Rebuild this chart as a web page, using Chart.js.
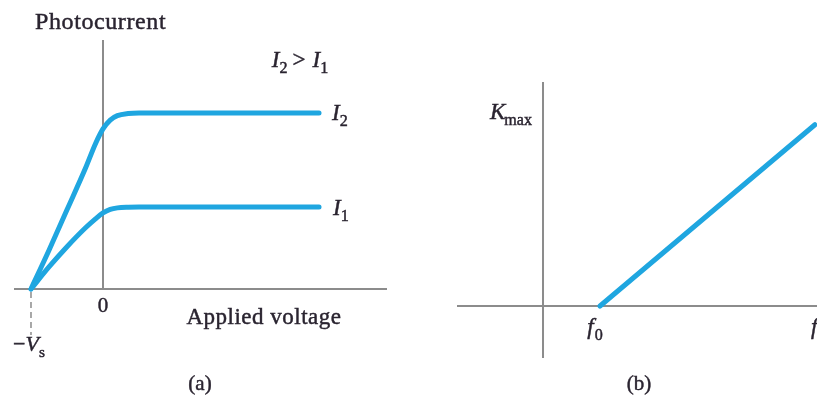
<!DOCTYPE html>
<html lang="en">
<head>
<meta charset="UTF-8">
<title>Photocurrent and Kmax</title>
<script src="https://cdn.jsdelivr.net/npm/chart.js"></script>
<style>
  body { margin: 0; background: #fff; }
  #wrap { position: relative; width: 817px; height: 397px; overflow: hidden; }
  #chartA { position: absolute; left: 0; top: 0; }
  #chartB { position: absolute; left: 410px; top: 0; }
</style>
</head>
<body>
<div id="wrap">
  <canvas id="chartA" width="410" height="397"></canvas>
  <canvas id="chartB" width="407" height="397"></canvas>
</div>
<script>
// (a) photocurrent vs applied voltage (voltage in units of Vs, current in units of I2)
var voltage   = [-1, -0.75, -0.5, -0.25, -0.1, 0, 0.1, 0.2, 0.35, 0.5, 3];
var currentI2 = [0, 0.22, 0.45, 0.68, 0.83, 0.91, 0.96, 0.985, 0.997, 1, 1];
var currentI1 = [0, 0.125, 0.24, 0.345, 0.40, 0.432, 0.452, 0.461, 0.465, 0.466, 0.466];

// (b) max kinetic energy vs frequency (frequency in units of f0)
var frequency = [1, 4.77];
var kmax      = [0, 3.18];

var BLUE = '#1fa6e0';
var AXIS = '#8c8c8c';
var INK  = '#2a2430';
var SERIF = '"Liberation Serif", "DejaVu Serif", serif';

function pts(xs, ys) {
    return xs.map(function(x, i) { return { x: x, y: ys[i] }; });
}

// draw a run of text pieces; piece = {t, it (italic), sub (subscript), gap}
function drawRich(ctx, parts, x, y, size, align, spacing) {
    var total = 0;
    ctx.save();
    ctx.letterSpacing = (spacing || 0) + 'px';
    parts.forEach(function(p) {
        ctx.font = (p.it ? 'italic ' : '') + (p.sub ? size * 0.7 : size) + 'px ' + SERIF;
        p.w = ctx.measureText(p.t).width + (p.gap || 0);
        total += p.w;
    });
    var cx = align === 'center' ? x - total / 2 : (align === 'right' ? x - total : x);
    ctx.textAlign = 'left';
    ctx.textBaseline = 'alphabetic';
    ctx.fillStyle = INK;
    ctx.strokeStyle = INK;
    ctx.lineWidth = 0.45;
    parts.forEach(function(p) {
        ctx.font = (p.it ? 'italic ' : '') + (p.sub ? size * 0.7 : size) + 'px ' + SERIF;
        var ty = y + (p.sub ? size * 0.26 : 0);
        ctx.fillText(p.t, cx, ty);
        ctx.strokeText(p.t, cx, ty);
        cx += p.w;
    });
    ctx.restore();
}

// zero axes (drawn through the chart's own scales) plus the text labels
function makeAxes(opts) {
    return {
        id: 'zeroAxes',
        beforeDatasetsDraw: function(chart) {
            var ctx = chart.ctx, a = chart.chartArea;
            var xs = chart.scales.x, ys = chart.scales.y;
            var x0 = xs.getPixelForValue(0), y0 = ys.getPixelForValue(0);
            ctx.save();
            ctx.strokeStyle = AXIS;
            ctx.lineWidth = 2;
            ctx.beginPath();
            ctx.moveTo(a.left, y0); ctx.lineTo(a.right, y0);
            ctx.moveTo(x0, a.top); ctx.lineTo(x0, opts.yAxisToZero ? y0 : a.bottom);
            ctx.stroke();
            if (opts.dashAt !== undefined) {
                var xd = xs.getPixelForValue(opts.dashAt);
                ctx.lineWidth = 1.5;
                ctx.setLineDash([6, 4]);
                ctx.beginPath();
                ctx.moveTo(xd, y0 + 3); ctx.lineTo(xd, a.bottom - 5);
                ctx.stroke();
            }
            ctx.restore();
        },
        afterDraw: function(chart) {
            opts.labels(chart.ctx, chart.scales.x, chart.scales.y);
        }
    };
}

function baseOptions(padding, xr, yr) {
    return {
        responsive: false,
        animation: false,
        layout: { padding: padding },
        plugins: { legend: { display: false }, tooltip: { enabled: false } },
        scales: {
            x: { type: 'linear', display: false, min: xr[0], max: xr[1] },
            y: { type: 'linear', display: false, min: yr[0], max: yr[1] }
        },
        elements: { point: { radius: 0 } }
    };
}

function curve(data) {
    return {
        data: data, showLine: true, borderColor: BLUE, borderWidth: 5,
        borderCapStyle: 'round', borderJoinStyle: 'round',
        cubicInterpolationMode: 'monotone', fill: false
    };
}

new Chart(document.getElementById('chartA'), {
    type: 'scatter',
    data: { datasets: [curve(pts(voltage, currentI2)), curve(pts(voltage, currentI1))] },
    options: baseOptions({ left: 14, right: 23, top: 40, bottom: 57 }, [-1.236, 3.944], [-0.29, 1.415]),
    plugins: [makeAxes({
        yAxisToZero: true,
        dashAt: -1,
        labels: function(ctx, xs, ys) {
            var x0 = xs.getPixelForValue(0), y0 = ys.getPixelForValue(0);
            var xEnd = xs.getPixelForValue(voltage[voltage.length - 1]);
            drawRich(ctx, [{ t: 'Photocurrent' }], 35, 29, 24, 'left', 0.6);
            drawRich(ctx, [{ t: 'I', it: true, gap: 0 }, { t: '2', sub: true, gap: 5 }, { t: '>', gap: 7 },
                           { t: 'I', it: true, gap: 0 }, { t: '1', sub: true }], 300, 67, 23, 'center');
            drawRich(ctx, [{ t: 'I', it: true, gap: 0 }, { t: '2', sub: true }],
                     xEnd + 13, ys.getPixelForValue(currentI2[currentI2.length - 1]) + 7, 23, 'left');
            drawRich(ctx, [{ t: 'I', it: true, gap: 0 }, { t: '1', sub: true }],
                     xEnd + 14, ys.getPixelForValue(currentI1[currentI1.length - 1]) + 8, 23, 'left');
            drawRich(ctx, [{ t: '0' }], x0, y0 + 23, 21, 'center');
            drawRich(ctx, [{ t: 'Applied voltage' }], 264, y0 + 35, 23, 'center', 0.5);
            drawRich(ctx, [{ t: '\u2212' }, { t: 'V', it: true }, { t: 's', sub: true }],
                     xs.getPixelForValue(-1) - 2, y0 + 62, 22, 'center');
            drawRich(ctx, [{ t: '(a)' }], 200, 390, 21, 'center');
        }
    })]
});

new Chart(document.getElementById('chartB'), {
    type: 'scatter',
    data: { datasets: [Object.assign(curve(pts(frequency, kmax)), { cubicInterpolationMode: 'default', tension: 0 })] },
    options: baseOptions({ left: 47, right: 0, top: 82, bottom: 39 }, [-1.509, 4.807], [-0.912, 3.93]),
    plugins: [makeAxes({
        yAxisToZero: false,
        labels: function(ctx, xs, ys) {
            var y0 = ys.getPixelForValue(0), x0 = xs.getPixelForValue(0);
            drawRich(ctx, [{ t: 'K', it: true, gap: -1 }, { t: 'max', sub: true }], x0 - 11, 119, 23, 'right');
            drawRich(ctx, [{ t: 'f', it: true, gap: 1 }, { t: '0', sub: true }],
                     xs.getPixelForValue(frequency[0]) - 5, y0 + 28, 23, 'center');
            drawRich(ctx, [{ t: 'f', it: true }], 401, y0 + 28, 23, 'left');
            drawRich(ctx, [{ t: '(b)' }], 229, 390, 21, 'center');
        }
    })]
});
</script>
</body>
</html>
